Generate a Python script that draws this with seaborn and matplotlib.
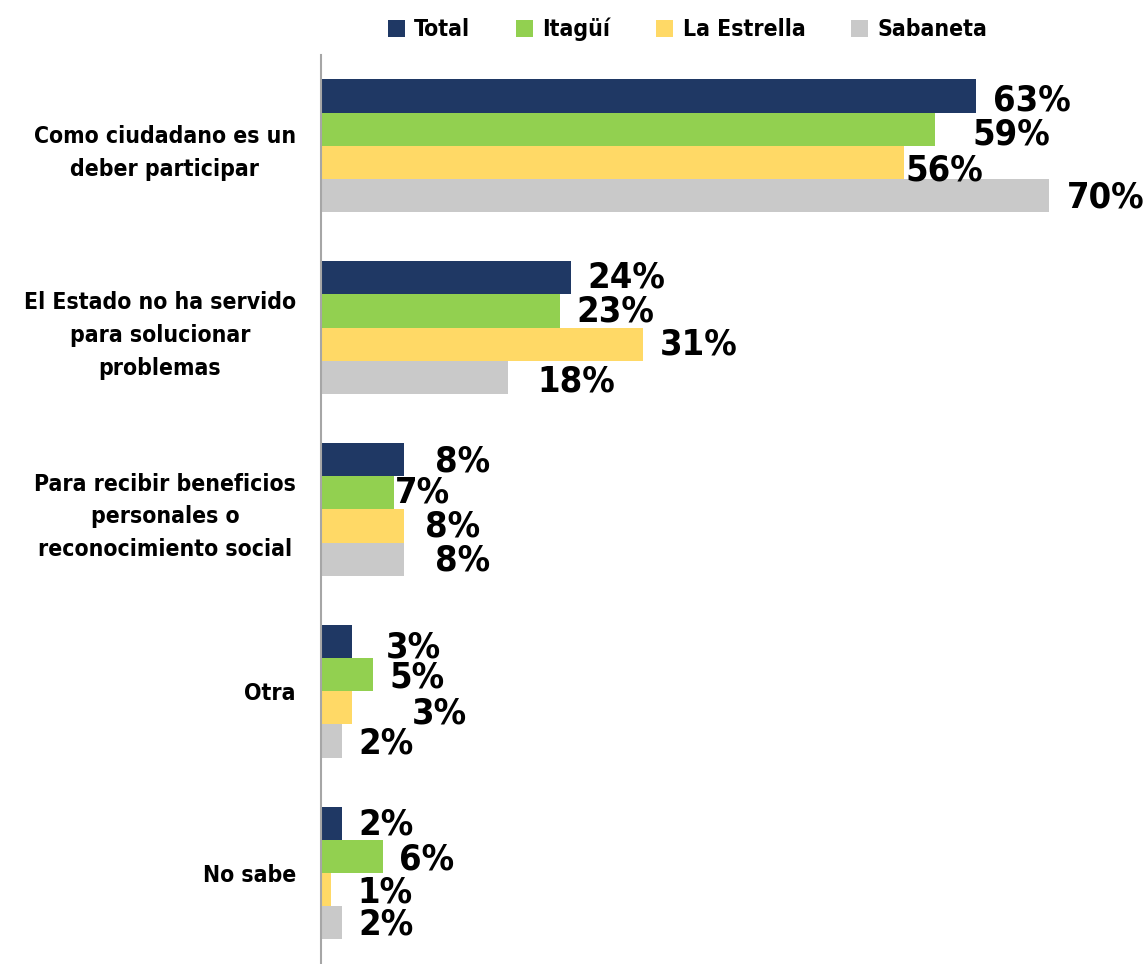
import pandas as pd
import seaborn as sns
from matplotlib import pyplot as plt

categories = ['Como ciudadano es un\ndeber participar',
              'El Estado no ha servido\npara solucionar\nproblemas',
              'Para recibir beneficios\npersonales o\nreconocimiento social',
              'Otra',
              'No sabe']
series = ['Total', 'Itagüí', 'La Estrella', 'Sabaneta']
total = [63, 24, 8, 3, 2]
itagui = [59, 23, 7, 5, 6]
estrella = [56, 31, 8, 3, 1]
sabaneta = [70, 18, 8, 2, 2]

colors = ['#1F3864', '#92D050', '#FFD966', '#C9C9C9']
# label nudges (points) so the labels sit like in the original
label_dx = [[12, 27, 1, 13],
            [12, 12, 12, 21],
            [22, 1, 15, 22],
            [24, 12, 43, 12],
            [12, 11, 19, 12]]
label_dy = [[-3, -4, -6, -1],
            [0, 0, 0, -3],
            [-1, 0, 0, -1],
            [-4, -2, -4, -2],
            [-1, -2, -2, -1]]

rows = []
for name, vals in zip(series, [total, itagui, estrella, sabaneta]):
    for cat, v in zip(categories, vals):
        rows.append({'cat': cat, 'serie': name, 'val': v})
df = pd.DataFrame(rows)

sns.set_theme(style='white')
plt.rcParams['font.family'] = ['DejaVu Sans']
plt.rcParams['font.weight'] = 'bold'
plt.rcParams['font.stretch'] = 'condensed'
plt.rcParams['text.color'] = 'black'

fig = plt.figure(figsize=(11.46, 9.64), dpi=100)
ax = fig.add_axes([0.280, 0.0, 0.72, 0.943])
sns.barplot(data=df, y='cat', x='val', hue='serie', orient='h',
            palette=colors, saturation=1, width=0.73, ax=ax, legend=True,
            edgecolor='none', linewidth=0)

ax.set_xlim(0, 79.3)
ax.set_ylim(4.5, -0.5)
ax.set_xlabel('')
ax.set_ylabel('')
ax.set_xticks([])
for s in ['top', 'right', 'bottom']:
    ax.spines[s].set_visible(False)
ax.spines['left'].set_color('#A6A6A6')
ax.spines['left'].set_linewidth(1.5)

ax.set_yticks(range(len(categories)))
ax.set_yticklabels(categories, fontsize=16.5, fontweight='bold',
                   fontstretch='condensed', multialignment='center',
                   color='black', linespacing=1.55)
ax.tick_params(axis='y', length=0, pad=18)

for si, cont in enumerate(ax.containers):
    for ci, bar in enumerate(cont):
        w = bar.get_width()
        y = bar.get_y() + bar.get_height() / 2
        ax.annotate(f'{w:.0f}%', (w, y),
                    xytext=(label_dx[ci][si], label_dy[ci][si]),
                    textcoords='offset points', ha='left', va='center',
                    fontsize=26, fontweight='bold', fontstretch='condensed',
                    color='black', clip_on=False)

leg = ax.legend(loc='upper center', bbox_to_anchor=(0.600, 1.003),
                bbox_transform=fig.transFigure, ncol=4, frameon=False,
                handlelength=0.75, handleheight=0.75, columnspacing=2.0,
                handletextpad=0.4,
                prop={'size': 16.5, 'weight': 'bold', 'stretch': 'condensed'})
for t in leg.get_texts():
    t.set_color('black')

fig.savefig('out.png', dpi=100)
